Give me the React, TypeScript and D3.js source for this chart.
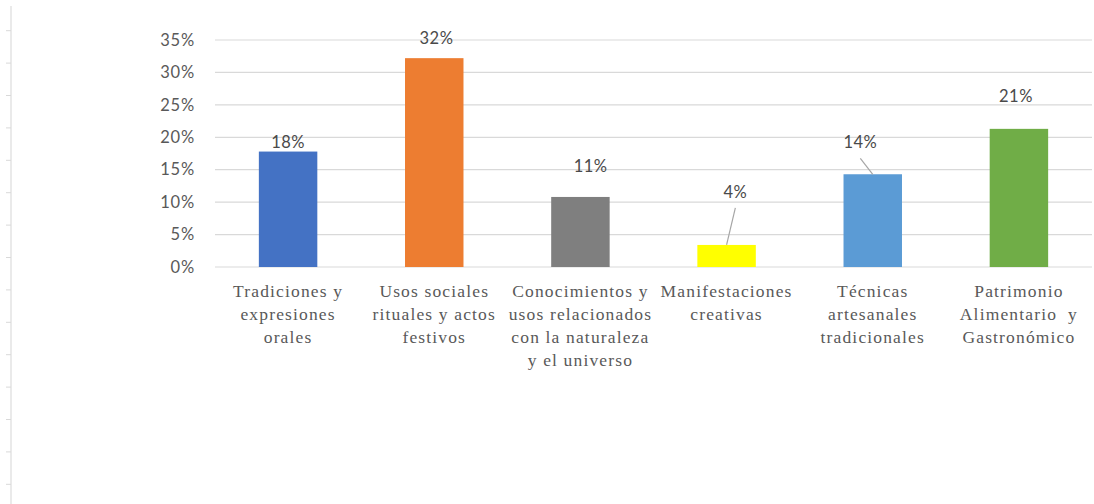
import React from "react";
import * as d3 from "d3";

const categories: string[][] = [
  ["Tradiciones y", "expresiones", "orales"],
  ["Usos sociales", "rituales y actos", "festivos"],
  ["Conocimientos y", "usos relacionados", "con la naturaleza", "y el universo"],
  ["Manifestaciones", "creativas"],
  ["Técnicas", "artesanales", "tradicionales"],
  ["Patrimonio", "Alimentario  y", "Gastronómico"],
];
const values: number[] = [0.178, 0.322, 0.108, 0.034, 0.143, 0.213];
const valueLabels: string[] = ["18%", "32%", "11%", "4%", "14%", "21%"];
const colors: string[] = ["#4472C4", "#ED7D31", "#7F7F7F", "#FFFF00", "#5B9BD5", "#70AD47"];
// manually placed data labels (value-space y, band-fraction x shift)
const labelY: number[] = [0.192, 0.353, 0.156, 0.116, 0.192, 0.264];
const labelDx: number[] = [0, 0.015, 0.07, 0.06, -0.085, -0.02];
const hasLeader: boolean[] = [false, false, false, true, true, false];
const yTicks: number[] = [0, 0.05, 0.1, 0.15, 0.2, 0.25, 0.3, 0.35];
const rulerRows: number[] = d3.range(15);

const W = 1094;
const H = 504;

export default function App() {
  const x = d3.scaleBand<number>().domain(d3.range(categories.length)).range([215, 1092]).paddingInner(0.6).paddingOuter(0.3);
  const y = d3.scaleLinear().domain([0, 0.35]).range([267, 40]);
  const ruler = d3.scaleLinear().domain([0, 1]).range([30.7, 63.1]);
  const step = x.step();
  const numFont = "Lato, 'Open Sans', sans-serif";
  const catFont = "'Liberation Serif', 'DejaVu Serif', serif";
  return (
    <svg width={W} height={H} style={{ position: "absolute", left: 0, top: 0, background: "#fff" }}>
      {/* sheet ruler at left */}
      <line x1={11} x2={11} y1={6} y2={H} stroke="#e3e3e3" strokeWidth={1.5} />
      {rulerRows.map((r) => (
        <line key={r} x1={6} x2={11} y1={ruler(r)} y2={ruler(r)} stroke="#d9d9d9" strokeWidth={1} />
      ))}
      {yTicks.map((t) => (
        <g key={t}>
          <line x1={215} x2={1092} y1={y(t)} y2={y(t)} stroke="#d9d9d9" strokeWidth={1.2} />
          <text x={195} y={y(t)} dy="0.35em" textAnchor="end" fontFamily={numFont} fontSize={16.5} fill="#595959" letterSpacing={0.8}>
            {d3.format(".0%")(t)}
          </text>
        </g>
      ))}
      {values.map((v, i) => {
        const bx = x(i)!;
        const cx = bx + x.bandwidth() / 2;
        const lx = cx + labelDx[i] * step;
        const ly = y(labelY[i]);
        return (
          <g key={i}>
            <rect x={bx} y={y(v)} width={x.bandwidth()} height={y(0) - y(v)} fill={colors[i]} />
            {hasLeader[i] && (
              <line x1={lx} y1={ly + 16} x2={cx} y2={y(v)} stroke="#a6a6a6" strokeWidth={1.2} />
            )}
            <text x={lx} y={ly} dy="0.35em" textAnchor="middle" fontFamily={numFont} fontSize={16.5} fill="#4a4a4a" letterSpacing={0.5}>
              {valueLabels[i]}
            </text>
            {categories[i].map((line, k) => (
              <text key={k} x={cx} y={297 + k * 23} textAnchor="middle" fontFamily={catFont} fontSize={17.5} fill="#595959" letterSpacing={1.15} style={{ whiteSpace: "pre" }}>
                {line}
              </text>
            ))}
          </g>
        );
      })}
    </svg>
  );
}
